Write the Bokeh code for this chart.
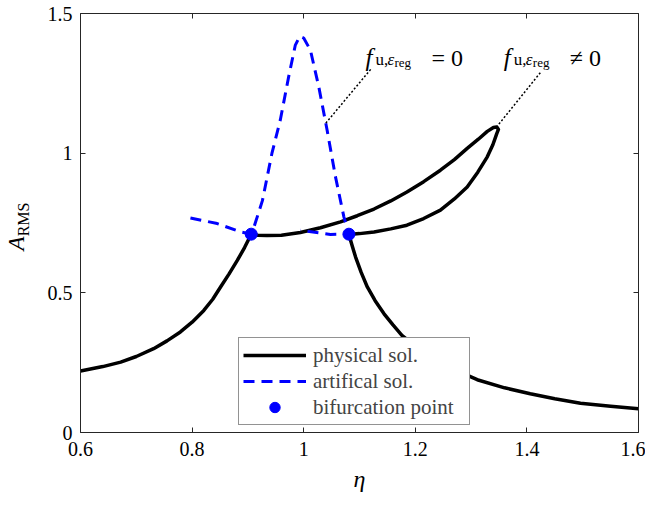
from bokeh.plotting import figure
from bokeh.models import Range1d, LinearAxis, FixedTicker, Label, Legend, Div
from bokeh.layouts import row
from bokeh.embed import file_html
from bokeh.resources import INLINE

# ---- data ----
phys_eta = [0.600, 0.640, 0.672, 0.700, 0.731, 0.755, 0.779, 0.800, 0.821, 0.837,
            0.851, 0.866, 0.881, 0.894, 0.906,
            0.918, 0.934, 0.960, 0.994, 1.030, 1.066, 1.096, 1.126, 1.156, 1.185,
            1.215, 1.245, 1.270, 1.293, 1.313, 1.329, 1.340, 1.346,
            1.349, 1.346, 1.339, 1.329, 1.312, 1.293, 1.270, 1.245, 1.215, 1.185,
            1.156, 1.126, 1.100, 1.081,
            1.087, 1.093, 1.103, 1.114, 1.128, 1.144, 1.160, 1.176, 1.215, 1.260,
            1.311, 1.360, 1.406, 1.450, 1.496, 1.550, 1.600]
phys_amp = [0.220, 0.236, 0.252, 0.272, 0.300, 0.328, 0.360, 0.395, 0.437, 0.477,
            0.521, 0.567, 0.616, 0.662, 0.710,
            0.706, 0.705, 0.706, 0.716, 0.733, 0.754, 0.776, 0.800, 0.829, 0.861,
            0.898, 0.939, 0.977, 1.017, 1.050, 1.078, 1.092, 1.094,
            1.085, 1.070, 1.030, 0.987, 0.932, 0.879, 0.836, 0.796, 0.766, 0.742,
            0.729, 0.718, 0.712, 0.709,
            0.668, 0.628, 0.573, 0.521, 0.472, 0.425, 0.385, 0.348, 0.285, 0.234,
            0.189, 0.160, 0.139, 0.121, 0.105, 0.094, 0.085]

art_eta = [0.797, 0.845, 0.887, 0.906, 0.911, 0.926, 0.943, 0.958, 0.973, 0.985,
           0.993, 1.000, 1.012, 1.027, 1.042, 1.057, 1.072, 1.081, 1.048, 0.994]
art_amp = [0.768, 0.748, 0.718, 0.710, 0.736, 0.830, 0.999, 1.118, 1.273, 1.387,
           1.418, 1.412, 1.369, 1.238, 1.082, 0.915, 0.772, 0.710, 0.709, 0.724]

bif_eta = [0.906, 1.081]
bif_amp = [0.710, 0.710]

lead1_eta = [1.120, 1.039]
lead1_amp = [1.300, 1.106]
lead2_eta = [1.424, 1.347]
lead2_amp = [1.288, 1.097]

x_ticks = [0.6, 0.8, 1.0, 1.2, 1.4, 1.6]
x_tick_labels = ["0.6", "0.8", "1", "1.2", "1.4", "1.6"]
y_ticks = [0.0, 0.5, 1.0, 1.5]
y_tick_labels = ["0", "0.5", "1", "1.5"]

legend_labels = ["physical sol.", "artifical sol.", "bifurcation point"]

FONT = "Liberation Serif"
AX = "#262626"

p = figure(width=605, height=497, output_backend="svg", toolbar_location=None,
           x_range=Range1d(0.6, 1.6), y_range=Range1d(0, 1.5),
           min_border_left=40, min_border_right=7, min_border_top=13, min_border_bottom=65)
p.xgrid.visible = False
p.ygrid.visible = False
p.outline_line_color = None
p.background_fill_color = "white"
p.border_fill_color = "white"

def style_axis(ax, ticks, labels, show_labels=True):
    ax.ticker = FixedTicker(ticks=ticks)
    ax.major_label_overrides = {t: l for t, l in zip(ticks, labels)}
    ax.minor_tick_line_color = None
    ax.major_tick_in = 5
    ax.major_tick_out = 0
    ax.axis_line_color = AX
    ax.major_tick_line_color = AX
    ax.axis_line_width = 1
    ax.major_label_text_font = FONT
    ax.major_label_text_color = "black"
    if show_labels:
        ax.major_label_text_font_size = "20px"
    else:
        ax.major_label_text_font_size = "0px"
        ax.major_label_standoff = 0

style_axis(p.xaxis[0], x_ticks, x_tick_labels)
style_axis(p.yaxis[0], y_ticks, y_tick_labels)
p.xaxis[0].major_label_standoff = 9
p.yaxis[0].major_label_standoff = 8

# x axis label
xa = p.xaxis[0]
xa.axis_label = "η"
xa.axis_label_text_font = FONT
xa.axis_label_text_font_size = "24px"
xa.axis_label_text_font_style = "italic"
xa.axis_label_text_color = "black"
xa.axis_label_standoff = 7

top = LinearAxis()
style_axis(top, x_ticks, x_tick_labels, show_labels=False)
p.add_layout(top, "above")
right = LinearAxis()
style_axis(right, y_ticks, y_tick_labels, show_labels=False)
p.add_layout(right, "right")

r_phys = p.line(phys_eta, phys_amp, line_color="black", line_width=3.5, line_join="round")
r_art = p.line(art_eta, art_amp, line_color="#0000FF", line_width=3, line_dash="11 7")
r_bif = p.scatter(bif_eta, bif_amp, size=12, marker="circle", fill_color="#0000FF",
                  line_color="#0000FF")

p.line(lead1_eta, lead1_amp, line_color="black", line_width=1.5, line_dash="2 2")
p.line(lead2_eta, lead2_amp, line_color="black", line_width=1.5, line_dash="2 2")

legend = Legend(items=[(legend_labels[0], [r_phys]), (legend_labels[1], [r_art]),
                       (legend_labels[2], [r_bif])],
                location=(158, 7))
legend.label_text_font = FONT
legend.label_text_font_size = "21px"
legend.label_height = 26
legend.glyph_height = 26
legend.glyph_width = 63
legend.label_standoff = 7
legend.label_width = 152
legend.spacing = 0
legend.padding = 4
legend.margin = 0
legend.border_line_color = AX
legend.border_line_width = 1
legend.background_fill_color = "white"
legend.background_fill_alpha = 1.0
p.add_layout(legend, "center")

def lab(x, y, text, size, style="normal"):
    p.add_layout(Label(x=x, y=y, x_units="screen", y_units="screen", text=text,
                       text_font=FONT, text_font_size=size, text_font_style=style,
                       text_color="black", text_align="left",
                       text_baseline="alphabetic"))

# annotation texts (screen units from the frame's bottom-left)
for dx, rel in [(0, "= 0"), (138.3, "≠ 0")]:
    lab(285 + dx, 375, "f", "25px", "italic")
    lab(295 + dx, 373.5, "u,", "17px")
    lab(307 + dx, 373.5, "ε", "17px", "italic")
    lab(314 + dx, 370.5, "reg", "13px")
    lab(351 + dx, 375, rel, "24px")

# rotated y axis label A_RMS (real HTML text, rotated with CSS)
ylabel_html = (
    '<div style="width:34px;height:452px;display:flex;align-items:center;'
    'justify-content:center;">'
    '<span style="display:inline-block;transform:rotate(-90deg);white-space:nowrap;'
    "font-family:'Liberation Serif';color:black;line-height:1;\">"
    '<i style="font-size:23px;">A</i>'
    '<span style="font-size:16px;position:relative;top:5px;">RMS</span>'
    '</span></div>'
)
ylab = Div(text=ylabel_html, width=40, height=497, margin=0)

layout = row(ylab, p, spacing=0)
open("out.html", "w").write(file_html(layout, INLINE))
